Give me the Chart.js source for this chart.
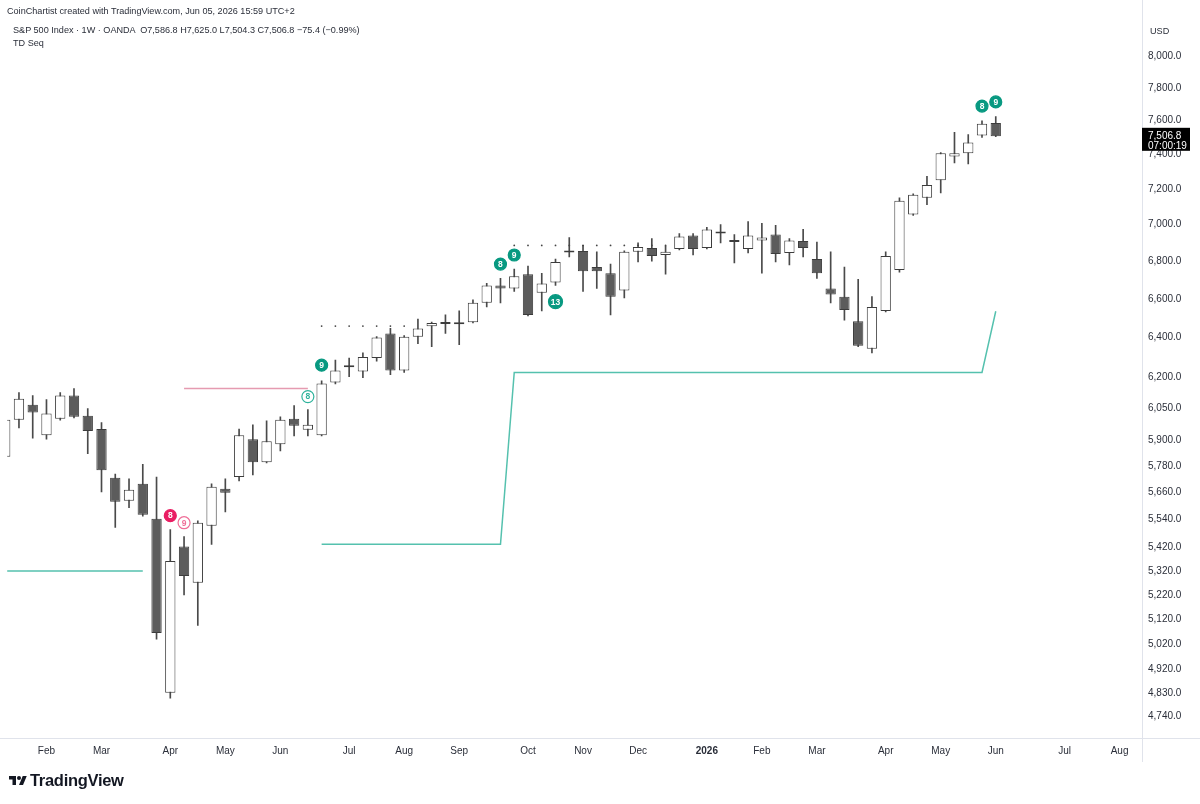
<!DOCTYPE html>
<html>
<head>
<meta charset="utf-8">
<script src="https://cdn.jsdelivr.net/npm/chart.js@4.4.1/dist/chart.umd.min.js"></script>
<style>
html, body { margin: 0; padding: 0; background: #fff; }
#wrap { position: relative; width: 1200px; height: 804px; font-family: 'Liberation Sans', Arial, sans-serif; color: #2a2e39; }
canvas { position: absolute; left: 0; top: 0; }
.t { position: absolute; white-space: pre; font-size: 9.1px; line-height: 12px; }
#logo { position: absolute; left: 9px; top: 771px; display: flex; align-items: center; font-weight: bold; font-size: 16.5px; letter-spacing: -0.3px; color: #131722; }
#logo svg { margin-right: 3px; }
</style>
</head>
<body>
<div id="wrap">
  <canvas id="myChart" width="1200" height="804"></canvas>
  <div class="t" style="left:7px;top:5px">CoinChartist created with TradingView.com, Jun 05, 2026 15:59 UTC+2</div>
  <div class="t" style="left:13px;top:24px">S&amp;P 500 Index · 1W · OANDA  O7,586.8 H7,625.0 L7,504.3 C7,506.8 −75.4 (−0.99%)</div>
  <div class="t" style="left:13px;top:37px">TD Seq</div>
  <div class="t" style="left:1150px;top:25px">USD</div>
  <div id="logo">
    <svg width="18" height="14" viewBox="0 0 36 28"><path d="M14 22H7V11H0V4h14v18z" fill="#131722"/><circle cx="20" cy="8" r="4" fill="#131722"/><path d="M28 22h-8l7.5-18h8L28 22z" fill="#131722"/></svg>
    TradingView
  </div>
</div>
<script>
// weekly bars (Monday dates), plus empty weeks on the right of the last bar
const weeks = [
  '2025-01-13','2025-01-20','2025-01-27','2025-02-03','2025-02-10','2025-02-17','2025-02-24',
  '2025-03-03','2025-03-10','2025-03-17','2025-03-24','2025-03-31','2025-04-07','2025-04-14',
  '2025-04-21','2025-04-28','2025-05-05','2025-05-12','2025-05-19','2025-05-26','2025-06-02',
  '2025-06-09','2025-06-16','2025-06-23','2025-06-30','2025-07-07','2025-07-14','2025-07-21',
  '2025-07-28','2025-08-04','2025-08-11','2025-08-18','2025-08-25','2025-09-01','2025-09-08',
  '2025-09-15','2025-09-22','2025-09-29','2025-10-06','2025-10-13','2025-10-20','2025-10-27',
  '2025-11-03','2025-11-10','2025-11-17','2025-11-24','2025-12-01','2025-12-08','2025-12-15',
  '2025-12-22','2025-12-29','2026-01-05','2026-01-12','2026-01-19','2026-01-26','2026-02-02',
  '2026-02-09','2026-02-16','2026-02-23','2026-03-02','2026-03-09','2026-03-16','2026-03-23',
  '2026-03-30','2026-04-06','2026-04-13','2026-04-20','2026-04-27','2026-05-04','2026-05-11',
  '2026-05-18','2026-05-25','2026-06-01','2026-06-08','2026-06-15','2026-06-22','2026-06-29',
  '2026-07-06','2026-07-13','2026-07-20','2026-07-27','2026-08-03','2026-08-10','2026-08-17'
];

const open = [
  5824, 5997, 6069, 5924, 6002, 6113, 6016, 5953, 5727, 5624, 5700, 5544, 4830, 5424,
  5270, 5514, 5678, 5731, 5905, 5798, 5882, 6002, 5949, 5924, 6176, 6262, 6231, 6297,
  6421, 6236, 6405, 6458, 6478, 6468, 6479, 6579, 6670, 6654, 6730, 6632, 6686, 6852,
  6855, 6768, 6735, 6643, 6850, 6871, 6833, 6866, 6939, 6871, 6962, 6909, 6866, 6912,
  6945, 6844, 6909, 6811, 6654, 6611, 6484, 6344, 6537, 6752, 7056, 7150, 7250, 7388,
  7406, 7511, 7586.8
];
const high = [
  6010, 6127, 6113, 6094, 6127, 6147, 6050, 5983, 5744, 5722, 5789, 5731, 5497, 5467,
  5535, 5700, 5722, 5953, 5973, 5992, 6011, 6064, 6045, 6185, 6287, 6297, 6323, 6405,
  6447, 6410, 6495, 6479, 6516, 6537, 6595, 6681, 6708, 6757, 6773, 6735, 6811, 6928,
  6886, 6850, 6784, 6855, 6899, 6922, 6882, 6950, 6950, 6984, 7000, 6945, 7017, 7006,
  6995, 6922, 6973, 6904, 6850, 6768, 6703, 6611, 6850, 7150, 7172, 7272, 7410, 7530,
  7517, 7600, 7625.0
];
const low = [
  5790, 5958, 5910, 5905, 5995, 6005, 5838, 5664, 5506, 5593, 5556, 5040, 4810, 5220,
  5095, 5433, 5575, 5713, 5740, 5795, 5851, 5920, 5920, 5920, 6170, 6205, 6200, 6282,
  6215, 6226, 6369, 6354, 6421, 6364, 6475, 6557, 6579, 6638, 6511, 6537, 6670, 6822,
  6638, 6654, 6516, 6605, 6795, 6800, 6730, 6860, 6833, 6866, 6899, 6790, 6844, 6735,
  6795, 6779, 6822, 6708, 6579, 6489, 6354, 6323, 6532, 6741, 7050, 7111, 7178, 7350,
  7345, 7500, 7504.3
];
const close = [
  5997, 6098, 6031, 6026, 6113, 6011, 5944, 5762, 5620, 5673, 5562, 5064, 5362, 5298,
  5527, 5687, 5660, 5924, 5798, 5896, 5997, 5968, 5973, 6171, 6236, 6251, 6302, 6400,
  6236, 6405, 6447, 6474, 6470, 6479, 6579, 6670, 6654, 6719, 6516, 6681, 6795, 6846,
  6746, 6746, 6611, 6850, 6877, 6828, 6850, 6934, 6866, 6973, 6950, 6904, 6939, 6928,
  6839, 6912, 6871, 6735, 6622, 6542, 6359, 6557, 6828, 7133, 7167, 7222, 7406, 7406,
  7470, 7582.2, 7506.8
];

const yTicks = [8000, 7800, 7600, 7400, 7200, 7000, 6800, 6600, 6400, 6200, 6050, 5900,
  5780, 5660, 5540, 5420, 5320, 5220, 5120, 5020, 4920, 4830, 4740];
const monthNames = ['Jan','Feb','Mar','Apr','May','Jun','Jul','Aug','Sep','Oct','Nov','Dec'];

// TD Seq levels
const tdstSupport1 = [['2025-01-13', 5320], ['2025-03-24', 5320]];
const tdstSupport2 = [['2025-06-23', 5433], ['2025-09-22', 5433], ['2025-09-29', 6226], ['2026-05-25', 6226], ['2026-06-01', 6535]];
const tdstResistance = [['2025-04-14', 6147], ['2025-06-16', 6147]];
const riskLevels = [['2025-06-23', '2025-08-04', 6459], ['2025-09-29', '2025-12-15', 6885]];

// TD Seq counts
const countWeeks = ['2025-04-07','2025-04-14','2025-06-16','2025-06-23','2025-09-22','2025-09-29','2025-10-20','2026-05-25','2026-06-01'];
const countLevels = [5558, 5527, 6108, 6262, 6784, 6833, 6585, 7689, 7714];
const countLabels = ['8', '9', '8', '9', '8', '9', '13', '8', '9'];
const countSide = ['down', 'down', 'up', 'up', 'up', 'up', 'up', 'up', 'up'];
const countFilled = [true, false, false, true, true, true, true, true, true];
const countdown = '07:00:19';

const idx = d => weeks.indexOf(d);
const toPts = arr => arr.map(p => ({ x: idx(p[0]), y: p[1] }));

const monthTicks = [];
weeks.forEach((w, i) => {
  if (i > 0 && w.slice(5, 7) !== weeks[i - 1].slice(5, 7)) monthTicks.push(i);
});
const tickLabel = i => {
  const m = +weeks[i].slice(5, 7);
  return m === 1 ? weeks[i].slice(0, 4) : monthNames[m - 1];
};

const riskDots = [];
riskLevels.forEach(r => {
  for (let i = idx(r[0]); i <= idx(r[1]); i++) riskDots.push({ x: i, y: r[2] });
});

const TEAL = '#089981', PINK = '#e91e63';
const sideColor = k => countSide[k] === 'up' ? TEAL : PINK;
const ringColor = k => countSide[k] === 'up' ? '#2fb39c' : '#ef6f98';

const countText = {
  id: 'countText',
  afterDatasetsDraw(chart) {
    const meta = chart.getDatasetMeta(0);
    const c = chart.ctx;
    c.save();
    c.textAlign = 'center';
    c.textBaseline = 'middle';
    c.font = 'bold 8.5px "Liberation Sans", Arial';
    meta.data.forEach((pt, k) => {
      c.fillStyle = countFilled[k] ? '#fff' : ringColor(k);
      c.fillText(countLabels[k], pt.x, pt.y + 0.5);
    });
    c.restore();
  }
};

const frame = {
  id: 'frame',
  afterDraw(chart) {
    const c = chart.ctx, a = chart.chartArea;
    const last = close.length - 1;
    c.save();
    c.strokeStyle = '#e0e3eb';
    c.lineWidth = 1;
    c.beginPath();
    c.moveTo(0, a.bottom + 0.5); c.lineTo(1200, a.bottom + 0.5);
    c.moveTo(a.right + 0.5, 0); c.lineTo(a.right + 0.5, a.bottom + 24);
    c.stroke();
    const y = chart.scales.y.getPixelForValue(close[last]);
    c.fillStyle = '#000';
    c.fillRect(a.right, y - 8.5, 48, 23);
    c.fillStyle = '#fff';
    c.font = '10px "Liberation Sans", Arial';
    c.textBaseline = 'middle';
    c.fillText(close[last].toLocaleString('en-US', { minimumFractionDigits: 1, maximumFractionDigits: 1 }), a.right + 6, y);
    c.fillText(countdown, a.right + 6, y + 9.5);
    c.restore();
  }
};

const ctx = document.getElementById('myChart').getContext('2d');
const myChart = new Chart(ctx, {
  type: 'bar',
  data: {
    datasets: [
      {
        type: 'line',
        order: 0,
        data: countWeeks.map((w, k) => ({ x: idx(w), y: countLevels[k] })),
        showLine: false,
        pointRadius: c => countLabels[c.dataIndex].length > 1 ? 7 : 6,
        pointBackgroundColor: c => countFilled[c.dataIndex] ? sideColor(c.dataIndex) : '#fff',
        pointBorderColor: c => countFilled[c.dataIndex] ? sideColor(c.dataIndex) : ringColor(c.dataIndex),
        pointBorderWidth: 1.2
      },
      {
        type: 'line', order: 1, data: toPts(tdstSupport1),
        borderColor: '#55c1ae', borderWidth: 1.5, pointRadius: 0, tension: 0
      },
      {
        type: 'line', order: 1, data: toPts(tdstSupport2),
        borderColor: '#55c1ae', borderWidth: 1.5, pointRadius: 0, tension: 0
      },
      {
        type: 'line', order: 1, data: toPts(tdstResistance),
        borderColor: '#e59bb1', borderWidth: 1.5, pointRadius: 0, tension: 0
      },
      {
        type: 'line', order: 1, data: riskDots, showLine: false,
        pointRadius: 0.9, pointBackgroundColor: '#444', pointBorderWidth: 0
      },
      {
        order: 2,
        data: close.map((c, i) => ({ x: i, y: [open[i], c] })),
        backgroundColor: c => close[c.dataIndex] >= open[c.dataIndex] ? '#ffffff' : '#5c5c5c',
        borderColor: '#3c3c3c',
        borderWidth: 1,
        borderSkipped: false,
        minBarLength: 2,
        grouped: false,
        categoryPercentage: 1,
        barPercentage: 0.75
      },
      {
        order: 3,
        data: close.map((c, i) => ({ x: i, y: [low[i], high[i]] })),
        backgroundColor: '#4a4a4a',
        borderWidth: 0,
        grouped: false,
        barThickness: 1
      }
    ]
  },
  options: {
    responsive: false,
    animation: false,
    layout: { padding: { left: 7, top: 20, right: 0, bottom: 42 } },
    plugins: { legend: false, tooltip: { enabled: false } },
    scales: {
      x: {
        type: 'linear',
        min: 0.145,
        max: 82.63,
        offset: false,
        grid: { display: false, drawTicks: false },
        border: { display: false },
        afterBuildTicks: s => { s.ticks = monthTicks.map(i => ({ value: i })); },
        afterFit: s => { s.height = 24; },
        ticks: {
          autoSkip: false,
          maxRotation: 0,
          padding: 7,
          color: '#2a2e39',
          font: c => ({ family: '"Liberation Sans", Arial', size: 10, weight: c.tick && +weeks[c.tick.value].slice(5, 7) === 1 ? 'bold' : 'normal' }),
          callback: v => tickLabel(v)
        }
      },
      y: {
        type: 'logarithmic',
        position: 'right',
        min: 4660.2,
        max: 8231.5,
        bounds: 'data',
        grid: { display: false, drawTicks: false },
        border: { display: false },
        afterBuildTicks: s => { s.ticks = yTicks.map(v => ({ value: v })); },
        afterFit: s => { s.width = 58; },
        ticks: {
          autoSkip: false,
          padding: 6,
          color: '#2a2e39',
          font: { family: '"Liberation Sans", Arial', size: 10 },
          callback: v => v.toLocaleString('en-US', { minimumFractionDigits: 1, maximumFractionDigits: 1 })
        }
      }
    }
  },
  plugins: [countText, frame]
});
</script>
</body>
</html>
